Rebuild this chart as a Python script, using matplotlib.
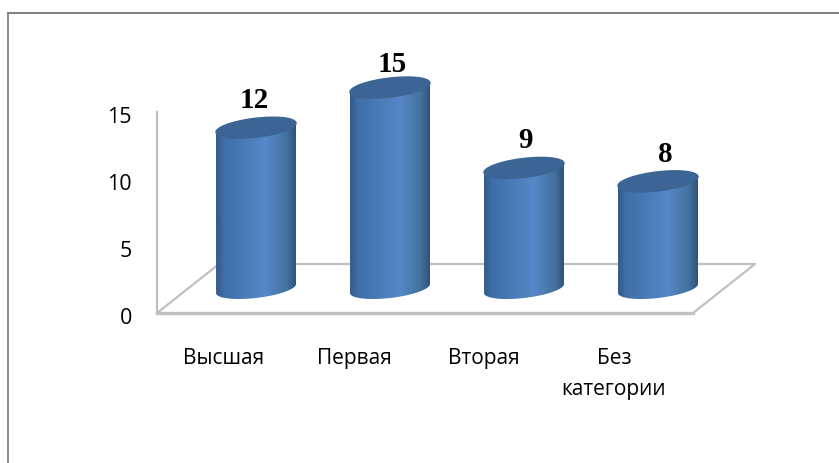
import numpy as np
import matplotlib
matplotlib.use('Agg')
import matplotlib.pyplot as plt
from matplotlib.colors import LinearSegmentedColormap
from matplotlib.patches import Polygon
from matplotlib.transforms import ScaledTranslation

# Data
categories = ['Высшая', 'Первая', 'Вторая', 'Без\nкатегории']
values = [12, 15, 9, 8]
yticks = [0, 5, 10, 15]

# small hand placement of the value labels, in pixels
label_dx = [-2, 2, 2, 7]
label_dy = [20, 15, 20, 19]

W, H = 839, 463
fig = plt.figure(figsize=(W / 100, H / 100), dpi=100)

# axes box = front plane of the 3D chart, in pixels
left, right, bottom, top = 157, 693, 313, 112
ax = fig.add_axes([left / W, 1 - bottom / H, (right - left) / W, (bottom - top) / H])
ax.set_xlim(-0.5, 3.5)
ax.set_ylim(0, 15)
ax.patch.set_alpha(0)

px_x = (right - left) / 4   # pixels per category
px_y = (bottom - top) / 15  # pixels per unit
grey = '#c0c0c0'

# depth of the floor, in data units
depth_x = 62 / px_x
depth_y = 49 / px_y

# floor and walls
ax.plot([-0.5, -0.5 + depth_x, 3.5 + depth_x, 3.5], [0, depth_y, depth_y, 0],
        color=grey, lw=1.6, clip_on=False, zorder=1)
for side in ['top', 'right']:
    ax.spines[side].set_visible(False)
ax.spines['left'].set_color(grey)
ax.spines['left'].set_linewidth(1.6)
ax.spines['bottom'].set_color(grey)
ax.spines['bottom'].set_linewidth(2.4)

ax.set_yticks(yticks)
# the category labels are packed a little tighter than the bars
ax.set_xticks([i * 130 / px_x for i in range(len(categories))])
ax.set_xticklabels(categories, family='Open Sans', fontsize=15, linespacing=1.62, va='top')
ax.tick_params(axis='x', length=0, pad=25)
ax.tick_params(axis='y', length=0, pad=18)
shift_down = ScaledTranslation(0, -3 / 100, fig.dpi_scale_trans)
for lab in ax.get_yticklabels():
    lab.set_family('Open Sans')
    lab.set_fontsize(15.5)
    lab.set_transform(lab.get_transform() + shift_down)

# cylinders
cmap = LinearSegmentedColormap.from_list('cyl', [
    (0.0, '#34598a'), (0.10, '#3f6fa8'), (0.42, '#4c7eba'), (0.62, '#5587c9'),
    (0.88, '#44739f'), (1.0, '#30527c')])
grad = np.linspace(0, 1, 256).reshape(1, -1)
a = 40 / px_x      # half width
b = 9.5 / px_y     # ellipse half height
tilt = 4.5 / px_y  # right side sits higher than the left
t = np.linspace(0, 2 * np.pi, 121)
base = depth_y / 2

for i, v in enumerate(values):
    cx = i + (depth_x + 2 / px_x) / 2
    ex = cx + a * np.cos(t)
    tilted = tilt * np.cos(t) + b * np.sin(t)
    lower = np.sin(t) <= 0
    order = np.argsort(ex[lower])
    bot_x, bot_y = ex[lower][order], (base + tilted[lower])[order]
    body = Polygon(np.r_[np.c_[bot_x, bot_y],
                         [[cx + a, base + v + tilt]], [[cx - a, base + v - tilt]]],
                   transform=ax.transData, fc='none', ec='none', clip_on=False)
    ax.add_patch(body)
    im = ax.imshow(grad, cmap=cmap, extent=[cx - a, cx + a, -2, 20], aspect='auto', zorder=3)
    im.set_clip_path(body)
    im.set_clip_box(fig.bbox)
    ax.fill(ex, base + v + tilted, color='#3c6595', zorder=4, clip_on=False)
    ax.annotate(str(v), xy=(cx, base + v), xytext=(label_dx[i], label_dy[i]),
                textcoords='offset pixels', family='Liberation Serif', fontweight='bold',
                fontsize=21, ha='center', va='baseline', zorder=5, annotation_clip=False)

ax.set_xlim(-0.5, 3.5)
ax.set_ylim(0, 15)

# outer frame of the chart
fig.add_artist(plt.Line2D([8 / W, 8 / W], [0, 1 - 13 / H], color='#8c8c8c', lw=1.4))
fig.add_artist(plt.Line2D([8 / W, 1], [1 - 13 / H, 1 - 13 / H], color='#808080', lw=1.4))

fig.savefig('out.png', dpi=100)
